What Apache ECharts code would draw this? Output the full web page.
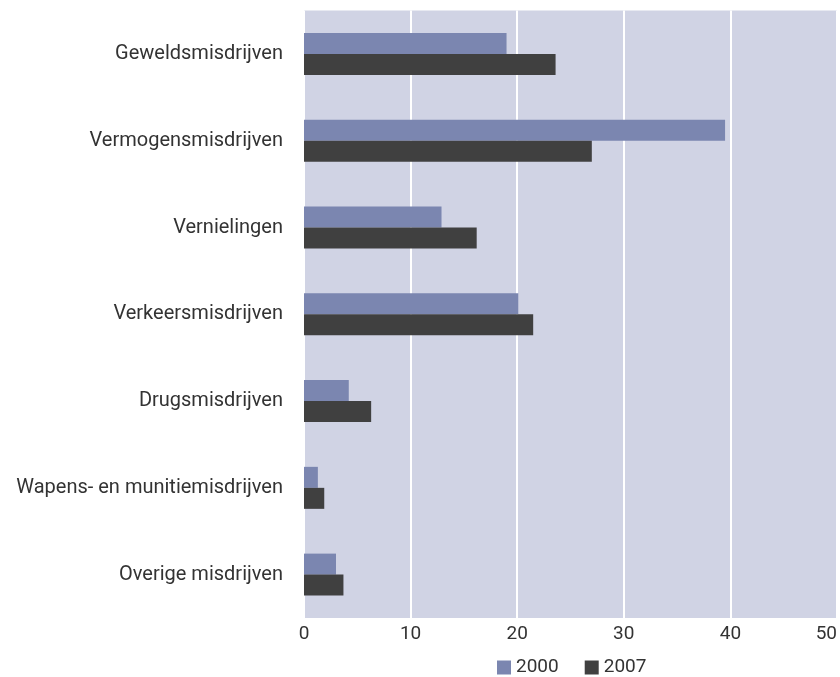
<!DOCTYPE html>
<html>
<head>
<meta charset="utf-8">
<script src="https://cdn.jsdelivr.net/npm/echarts@6/dist/echarts.min.js"></script>
<style>html,body{margin:0;padding:0;background:#fff}#c{width:840px;height:677px}</style>
</head>
<body>
<div id="c"></div>
<script>
const categories = ['Geweldsmisdrijven','Vermogensmisdrijven','Vernielingen','Verkeersmisdrijven','Drugsmisdrijven','Wapens- en munitiemisdrijven','Overige misdrijven'];
const values2000 = [19.0, 39.5, 12.9, 20.1, 4.2, 1.3, 3.0];
const values2007 = [23.6, 27.0, 16.2, 21.5, 6.3, 1.9, 3.7];
const seriesNames = ['2000', '2007'];
const xTicks = {min: 0, max: 50, interval: 10};

const chart = echarts.init(document.getElementById('c'), null, {renderer: 'canvas'});
const font = 'Roboto, "Liberation Sans", sans-serif';
chart.setOption({
  animation: false,
  textStyle: {fontFamily: font},
  grid: {left: 304, right: 0, top: 10.6, bottom: 59, show: true, backgroundColor: '#d0d3e4', borderWidth: 0, containLabel: false},
  legend: {
    data: seriesNames, left: 492, top: 653, itemWidth: 14, itemHeight: 14, itemGap: 26,
    icon: 'rect', textStyle: {fontSize: 19, color: '#333', fontFamily: font}
  },
  xAxis: {
    type: 'value', min: xTicks.min, max: xTicks.max, interval: xTicks.interval,
    axisLine: {show: false}, axisTick: {show: false},
    splitLine: {show: true, lineStyle: {color: '#ffffff', width: 2}},
    axisLabel: {fontSize: 19, color: '#333', margin: 7, alignMaxLabel: 'right', fontFamily: font}
  },
  yAxis: {
    type: 'category', data: categories, inverse: true,
    axisLine: {show: false}, axisTick: {show: false}, splitLine: {show: false},
    axisLabel: {fontSize: 20, color: '#333', margin: 21, fontFamily: font}
  },
  series: [
    {name: seriesNames[0], type: 'bar', data: values2000, barWidth: 21, barGap: '0%', itemStyle: {color: '#7b86b0'}},
    {name: seriesNames[1], type: 'bar', data: values2007, barWidth: 21, barGap: '0%', itemStyle: {color: '#404040'}}
  ]
});
</script>
</body>
</html>
